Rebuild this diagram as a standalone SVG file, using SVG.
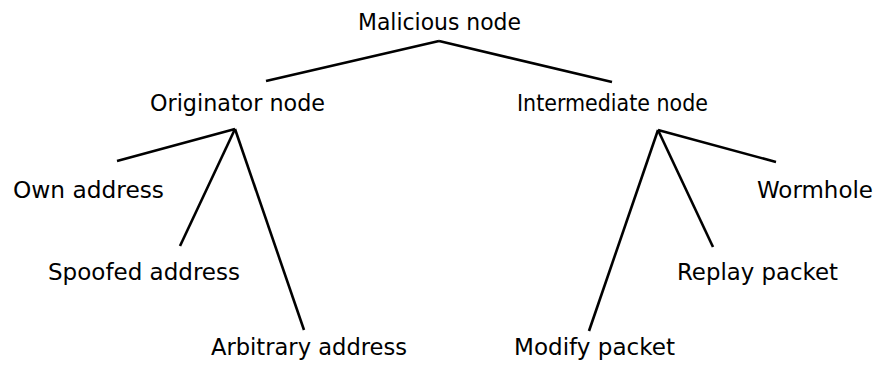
<svg xmlns="http://www.w3.org/2000/svg" width="878" height="372" viewBox="0 0 878 372">
<style>
text{font-family:"DejaVu Sans",Verdana,sans-serif;font-size:23.5px;fill:#000}
.c line{stroke:#000;stroke-width:2.6;stroke-linecap:butt}
</style>
<rect width="878" height="372" fill="#fff"/>
<g class="c" id="connectors">
<line x1="439" y1="41" x2="266" y2="81"/>
<line x1="439" y1="41" x2="612" y2="82"/>
<line x1="235" y1="129" x2="117" y2="161"/>
<line x1="235" y1="129" x2="180" y2="246"/>
<line x1="235" y1="129" x2="304" y2="330"/>
<line x1="658" y1="130" x2="776" y2="162"/>
<line x1="658" y1="130" x2="713" y2="247"/>
<line x1="658" y1="130" x2="589" y2="331"/>
</g>
<g id="malicious"><text x="358" y="30" textLength="163" lengthAdjust="spacingAndGlyphs">Malicious node</text></g>
<g id="originator"><text x="150" y="111" textLength="175" lengthAdjust="spacingAndGlyphs">Originator node</text></g>
<g id="intermediate"><text x="517" y="111" textLength="191" lengthAdjust="spacingAndGlyphs">Intermediate node</text></g>
<g id="own"><text x="13" y="198" textLength="151" lengthAdjust="spacingAndGlyphs">Own address</text></g>
<g id="spoofed"><text x="48" y="280" textLength="192" lengthAdjust="spacingAndGlyphs">Spoofed address</text></g>
<g id="arbitrary"><text x="211" y="355" textLength="196" lengthAdjust="spacingAndGlyphs">Arbitrary address</text></g>
<g id="wormhole"><text x="757" y="198" textLength="116" lengthAdjust="spacingAndGlyphs">Wormhole</text></g>
<g id="replay"><text x="677" y="280" textLength="161" lengthAdjust="spacingAndGlyphs">Replay packet</text></g>
<g id="modify"><text x="514" y="355" textLength="161" lengthAdjust="spacingAndGlyphs">Modify packet</text></g>
</svg>
